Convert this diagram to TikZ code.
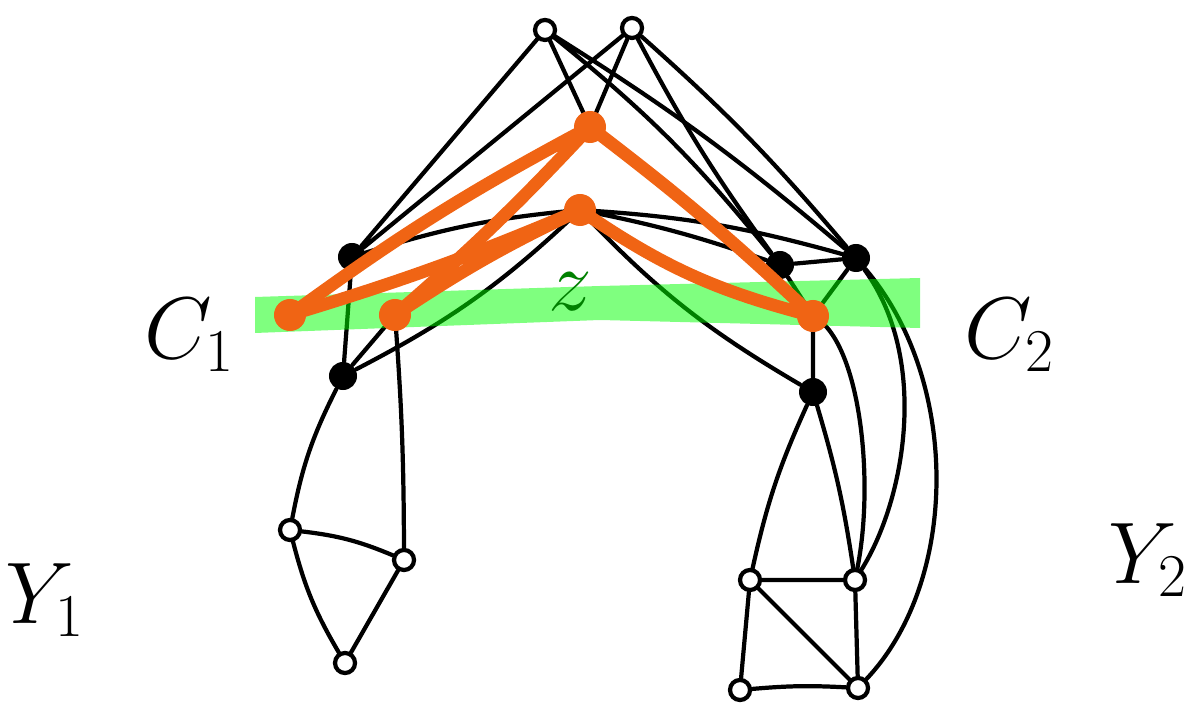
\documentclass[tikz,border=0pt]{standalone}
\definecolor{hotorange}{RGB}{240,100,20}
\definecolor{bandgreen}{RGB}{0,255,0}
\definecolor{zgreen}{RGB}{0,128,0}
\begin{document}
\begin{tikzpicture}[x=0.01cm, y=-0.01cm,
    edge/.style={line width=1.2pt, line cap=round, line join=round},
    hot/.style={line width=3.6pt, color=hotorange, line cap=round},
    open/.style={circle, draw, line width=1.2pt, fill=white, inner sep=0pt, minimum size=0.2cm},
    solid/.style={circle, fill=black, inner sep=0pt, minimum size=0.28cm},
    hotnode/.style={circle, fill=hotorange, inner sep=0pt, minimum size=0.32cm},
    tag/.style={font=\fontsize{26}{26}\selectfont}]
  % pixel grid of the sketch, y grows downwards
  \useasboundingbox (0,0) rectangle (1194,710);
  % top pair and the separator vertices
  \node[open] (t1) at (545,30) {};
  \node[open] (t2) at (632,28) {};
  \coordinate (h1) at (590,127);
  \coordinate (h2) at (580,210);
  \coordinate (s1) at (290,315);
  \coordinate (s2) at (395,315);
  \coordinate (s3) at (813,316);
  \node[solid] (b1) at (352,257) {};
  \node[solid] (b2) at (343,376) {};
  \node[solid] (b3) at (780,265) {};
  \node[solid] (b4) at (856,258) {};
  \node[solid] (b5) at (813,392) {};
  % left part Y_1
  \node[open] (l1) at (290,530) {};
  \node[open] (l2) at (404,560) {};
  \node[open] (l3) at (345,663) {};
  % right part Y_2
  \node[open] (r1) at (750,580) {};
  \node[open] (r2) at (855,580) {};
  \node[open] (r3) at (740,690) {};
  \node[open] (r4) at (858,688) {};
  \draw[edge] (t1) -- (b1) (t2) -- (b1) (t1) -- (h1) (t2) -- (h1);
  \draw[edge] (t1) to[bend left=6] (b3) (t1) to[bend left=4] (b4);
  \draw[edge] (t2) to[bend right=4] (b3) (t2) to[bend left=4] (b4);
  \draw[edge] (h2) to[bend right=6] (b1) (h2) to[bend left=6] (b4) (h2) to[bend left=4] (b3);
  \draw[edge] (h2) to[bend left=8] (b2) (h2) to[bend right=8] (b5);
  \draw[edge] (b3) -- (b4) (b3) -- (s3) (b4) -- (s3) (s3) -- (b5);
  \draw[edge] (b1) -- (b2) (b2) -- (s2) (s2) to[bend left=2] (l2);
  \draw[edge] (b2) to[bend right=8] (l1);
  \draw[edge] (l1) to[bend left=8] (l2) (l1) to[bend right=8] (l3) (l2) -- (l3);
  \draw[edge] (b5) to[bend right=6] (r1) (b5) to[bend left=4] (r2);
  \draw[edge] (s3) .. controls (860,340) and (875,480) .. (r2);
  \draw[edge] (b4) .. controls (930,360) and (905,500) .. (r2);
  \draw[edge] (b4) .. controls (960,380) and (960,580) .. (r4);
  \draw[edge] (r1) -- (r2) (r1) -- (r3) (r1) -- (r4) (r2) -- (r4) (r3) to[bend left=4] (r4);
  % the separator band
  \fill[bandgreen, opacity=0.5] (255,297) -- (600,286) -- (920,278) -- (920,328)
    -- (600,320) -- (255,333) -- cycle;
  \node[zgreen, font=\fontsize{24}{24}\selectfont] (zlab) at (570,292) {$z$};
  % hot edges of the separator
  \draw[hot] (h1) to[bend right=4] (s1) (h1) to[bend left=3] (s2);
  \draw[hot] (h2) to[bend left=3] (s1) (h2) to[bend right=4] (s2);
  \draw[hot] (h1) to[bend left=3] (s3) (h2) to[bend right=10] (s3);
  \node[hotnode] (o1) at (h1) {};
  \node[hotnode] (o2) at (h2) {};
  \node[hotnode] (o3) at (s1) {};
  \node[hotnode] (o4) at (s2) {};
  \node[hotnode] (o5) at (s3) {};
  % set names
  \node[tag] (c1) at (190,335) {$C_1$};
  \node[tag] (c2) at (1010,335) {$C_2$};
  \node[tag] (y1) at (45,600) {$Y_1$};
  \node[tag] (y2) at (1148,560) {$Y_2$};
\end{tikzpicture}
\end{document}
